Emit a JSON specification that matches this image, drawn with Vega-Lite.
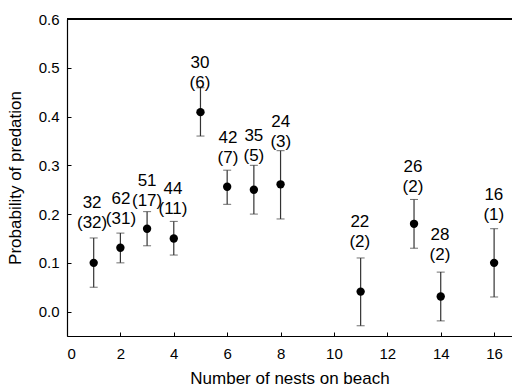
{
  "$schema": "https://vega.github.io/schema/vega-lite/v6.json",
  "autosize": "none",
  "width": 445,
  "height": 317,
  "padding": {"left": 67, "top": 19, "right": 0, "bottom": 54},
  "background": "white",
  "config": {
    "view": {"stroke": null},
    "font": "Liberation Sans",
    "axis": {
      "grid": false,
      "domainColor": "#000000",
      "domainWidth": 1.2,
      "tickColor": "#000000",
      "tickSize": -4,
      "labelColor": "#000000",
      "titleColor": "#000000",
      "labelFontSize": 15,
      "titleFontSize": 17,
      "titleFontWeight": "normal",
      "labelFont": "Liberation Sans",
      "titleFont": "Liberation Sans"
    }
  },
  "data": {
    "values": [
      {"n": 1, "p": 0.10, "lo": 0.050, "hi": 0.151, "label": "32\n(32)", "lx": 0.94, "ly": 0.223},
      {"n": 2, "p": 0.131, "lo": 0.10, "hi": 0.161, "label": "62\n(31)", "lx": 2.02, "ly": 0.231},
      {"n": 3, "p": 0.17, "lo": 0.135, "hi": 0.205, "label": "51\n(17)", "lx": 3.0, "ly": 0.268},
      {"n": 4, "p": 0.15, "lo": 0.116, "hi": 0.185, "label": "44\n(11)", "lx": 3.97, "ly": 0.251},
      {"n": 5, "p": 0.409, "lo": 0.36, "hi": 0.459, "label": "30\n(6)", "lx": 4.98, "ly": 0.509},
      {"n": 6, "p": 0.256, "lo": 0.22, "hi": 0.29, "label": "42\n(7)", "lx": 6.03, "ly": 0.356},
      {"n": 7, "p": 0.25, "lo": 0.20, "hi": 0.30, "label": "35\n(5)", "lx": 7.0, "ly": 0.36},
      {"n": 8, "p": 0.261, "lo": 0.19, "hi": 0.33, "label": "24\n(3)", "lx": 8.01, "ly": 0.388},
      {"n": 11, "p": 0.041, "lo": -0.029, "hi": 0.11, "label": "22\n(2)", "lx": 10.97, "ly": 0.184},
      {"n": 13, "p": 0.18, "lo": 0.13, "hi": 0.23, "label": "26\n(2)", "lx": 12.96, "ly": 0.297},
      {"n": 14, "p": 0.031, "lo": -0.019, "hi": 0.081, "label": "28\n(2)", "lx": 13.97, "ly": 0.158},
      {"n": 16, "p": 0.10, "lo": 0.03, "hi": 0.17, "label": "16\n(1)", "lx": 15.99, "ly": 0.24}
    ]
  },
  "layer": [
    {
      "mark": {"type": "rule", "color": "#000000", "strokeWidth": 1.2},
      "encoding": {"y": {"datum": 0.6, "type": "quantitative", "title": "Probability of predation", "scale": {"domain": [-0.05, 0.6]}}}
    },
    {
      "mark": {"type": "errorbar", "ticks": {"size": 8, "color": "#333333", "strokeWidth": 1.2}, "rule": {"color": "#333333", "strokeWidth": 1.2}},
      "encoding": {
        "x": {"field": "n", "type": "quantitative", "title": "Number of nests on beach"},
        "y": {"field": "lo", "type": "quantitative", "title": "Probability of predation"},
        "y2": {"field": "hi"}
      }
    },
    {
      "mark": {"type": "point", "filled": true, "color": "#000000", "opacity": 1, "size": 70},
      "encoding": {
        "x": {"field": "n", "type": "quantitative", "title": "Number of nests on beach",
              "scale": {"domain": [0, 16.67], "nice": false},
              "axis": {"values": [0, 2, 4, 6, 8, 10, 12, 14, 16], "labelPadding": 14, "titlePadding": 9}},
        "y": {"field": "p", "type": "quantitative", "title": "Probability of predation",
              "scale": {"domain": [-0.05, 0.6], "nice": false, "zero": false},
              "axis": {"values": [0, 0.1, 0.2, 0.3, 0.4, 0.5, 0.6], "format": ".1f", "labelPadding": 12, "titlePadding": 14}}
      }
    },
    {
      "mark": {"type": "text", "lineBreak": "\n", "fontSize": 17, "lineHeight": 20, "align": "center", "baseline": "middle", "color": "#000000", "font": "Liberation Sans"},
      "encoding": {
        "x": {"field": "lx", "type": "quantitative", "title": "Number of nests on beach"},
        "y": {"field": "ly", "type": "quantitative", "title": "Probability of predation"},
        "text": {"field": "label"}
      }
    }
  ]
}
